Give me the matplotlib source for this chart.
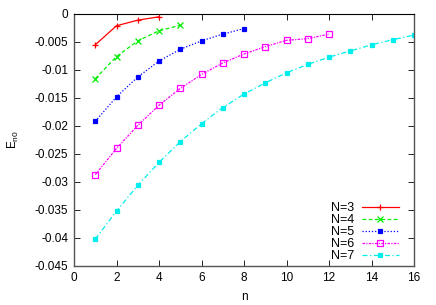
import matplotlib
matplotlib.use("Agg")
import matplotlib.pyplot as plt
from matplotlib.ticker import FuncFormatter

plt.rcParams['font.family'] = ['Liberation Sans', 'DejaVu Sans']

n3 = [1, 2, 3, 4]
e3 = [-0.0055, -0.0021, -0.0011, -0.0005]
n4 = [1, 2, 3, 4, 5]
e4 = [-0.01155, -0.0076, -0.0048, -0.0030, -0.0020]
n5 = [1, 2, 3, 4, 5, 6, 7, 8]
e5 = [-0.01917, -0.0148, -0.01125, -0.0084, -0.0063, -0.0048, -0.0036, -0.0026]
n6 = list(range(1, 13))
e6 = [-0.0287, -0.0240, -0.0199, -0.0163, -0.0133, -0.0108, -0.00875, -0.00714,
      -0.00583, -0.0047, -0.0044, -0.0036]
n7 = list(range(1, 17))
e7 = [-0.0402, -0.0352, -0.0306, -0.0265, -0.0228, -0.0196, -0.0167, -0.0143,
      -0.0123, -0.0105, -0.0090, -0.0077, -0.0066, -0.0055, -0.0046, -0.00375]
labels = ['N=3', 'N=4', 'N=5', 'N=6', 'N=7']

fig = plt.figure(figsize=(4.36, 3.05), dpi=100)
ax = fig.add_axes([74/436, 39/305, 340/436, 252/305])

styles = [
    dict(color='#ff0000', ls='-', marker='+', ms=4, mfc='#ff0000'),
    dict(color='#00ee00', ls=(0, (3, 2)), marker='x', ms=4, mfc='#00ee00'),
    dict(color='#0000ff', ls=(0, (1, 1.5)), marker='s', ms=3.5, mfc='#0000ff'),
    dict(color='#ff00ff', ls=(0, (2, 1, 1, 1)), marker='s', ms=4.5, mfc='none'),
    dict(color='#00eeee', ls=(0, (4, 2, 1, 2)), marker='s', ms=3.5, mfc='#00eeee'),
]
for (x, y), st, lab in zip([(n3, e3), (n4, e4), (n5, e5), (n6, e6), (n7, e7)], styles, labels):
    ax.plot(x, y, lw=0.9, mew=0.9, mec=st['color'], label=lab, **st)

ax.set_xlim(0, 16)
ax.set_ylim(-0.045, 0)
ax.set_xticks(range(0, 17, 2))
ax.set_yticks([-0.045 + 0.005*i for i in range(10)])
ax.yaxis.set_major_formatter(FuncFormatter(lambda v, p: '0' if abs(v) < 1e-12 else ('%g' % round(v, 4))))
ax.tick_params(direction='in', top=True, right=True, length=4, width=0.6, labelsize=8.5, pad=4)
for s in ax.spines.values():
    s.set_linewidth(1.0)
    s.set_color('#555555')
ax.spines['top'].set_color('black')
ax.spines['top'].set_linewidth(0.8)

ax.set_xlabel('n', fontsize=8.5, labelpad=5)
ax.set_ylabel(r'E$_{\mathregular{n0}}$', fontsize=8.5, labelpad=10)

leg = ax.legend(loc='lower right', bbox_to_anchor=(0.956, 0.015), frameon=False,
                fontsize=9, markerfirst=False, handlelength=3.0, handletextpad=0.6,
                labelspacing=0.0, borderpad=0, borderaxespad=0)
fig.savefig('out.png', dpi=100)
